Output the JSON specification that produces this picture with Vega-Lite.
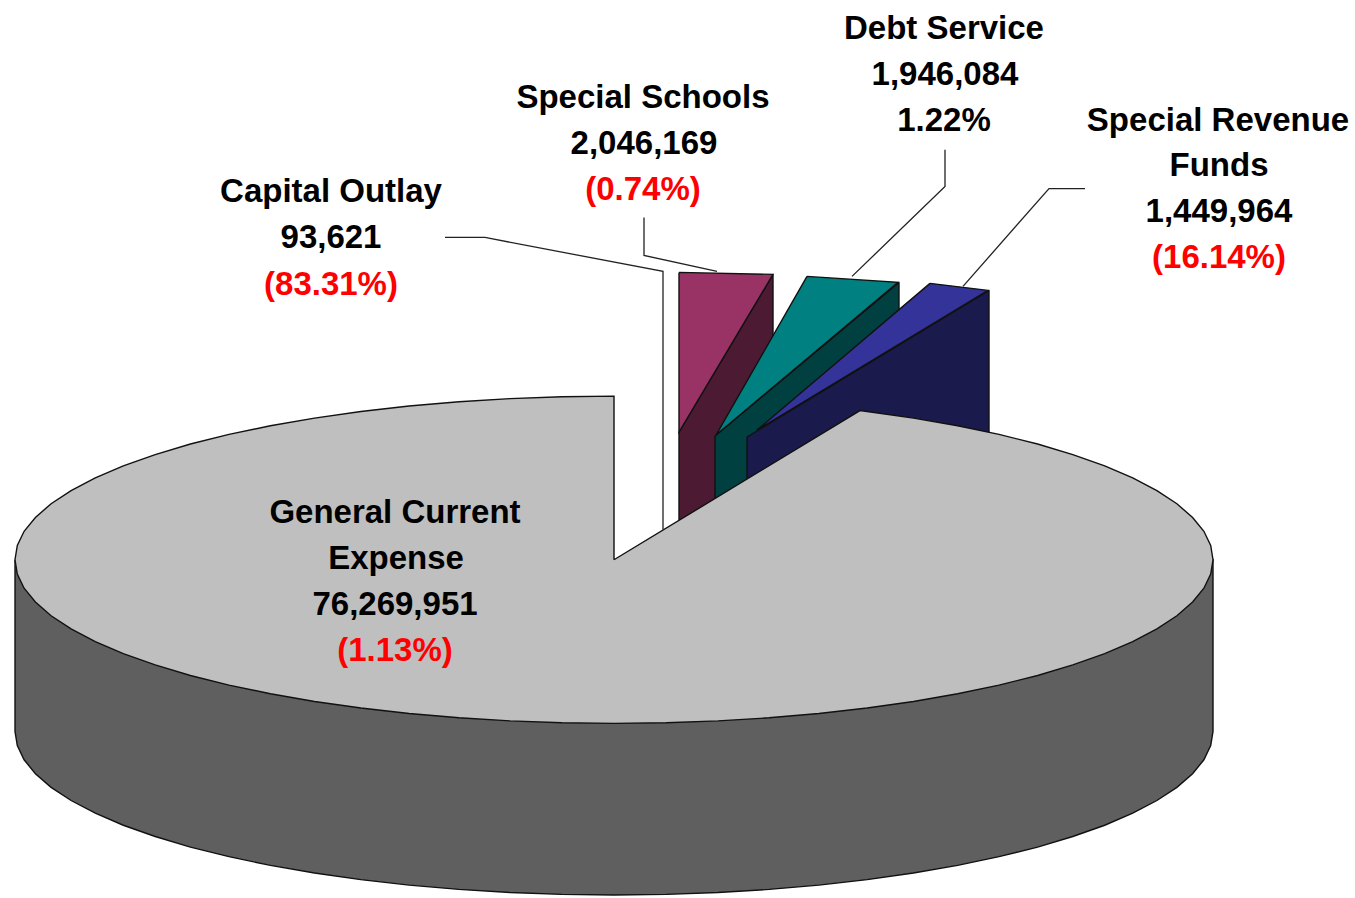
{"$schema":"https://vega.github.io/schema/vega-lite/v6.json","width":1355,"height":898,"padding":0,"autosize":{"type":"fit","contains":"padding"},"background":"white","config":{"view":{"stroke":null}},
"datasets":{
"faces":[
{"s":"Special Schools side","i":0,"x":773,"y":275},{"s":"Special Schools side","i":1,"x":773,"y":400},{"s":"Special Schools side","i":2,"x":715,"y":500},{"s":"Special Schools side","i":3,"x":679,"y":530},{"s":"Special Schools side","i":4,"x":679,"y":433},{"s":"Special Schools side","i":5,"x":773,"y":275},
{"s":"Special Schools top","i":0,"x":679,"y":273},{"s":"Special Schools top","i":1,"x":773,"y":275},{"s":"Special Schools top","i":2,"x":679,"y":433},{"s":"Special Schools top","i":3,"x":679,"y":273},
{"s":"Debt Service side","i":0,"x":899,"y":283},{"s":"Debt Service side","i":1,"x":899,"y":371},{"s":"Debt Service side","i":2,"x":715,"y":525},{"s":"Debt Service side","i":3,"x":715,"y":437},{"s":"Debt Service side","i":4,"x":899,"y":283},
{"s":"Debt Service top","i":0,"x":807,"y":277},{"s":"Debt Service top","i":1,"x":898,"y":283},{"s":"Debt Service top","i":2,"x":716,"y":436},{"s":"Debt Service top","i":3,"x":807,"y":277},
{"s":"Special Revenue side","i":0,"x":989,"y":291},{"s":"Special Revenue side","i":1,"x":989,"y":440},{"s":"Special Revenue side","i":2,"x":747,"y":530},{"s":"Special Revenue side","i":3,"x":747,"y":438},{"s":"Special Revenue side","i":4,"x":989,"y":291},
{"s":"Special Revenue top","i":0,"x":930,"y":284},{"s":"Special Revenue top","i":1,"x":988,"y":291},{"s":"Special Revenue top","i":2,"x":757,"y":431},{"s":"Special Revenue top","i":3,"x":930,"y":284},
{"s":"General side","i":0,"x":15,"y":561},{"s":"General side","i":1,"x":15,"y":733},{"s":"General side","i":2,"x":17.3,"y":747.3},{"s":"General side","i":3,"x":24.1,"y":761.5},{"s":"General side","i":4,"x":35.4,"y":775.4},{"s":"General side","i":5,"x":51.1,"y":789.1},{"s":"General side","i":6,"x":71.1,"y":802.3},{"s":"General side","i":7,"x":95.3,"y":815},{"s":"General side","i":8,"x":123.3,"y":827.1},{"s":"General side","i":9,"x":155.2,"y":838.4},{"s":"General side","i":10,"x":190.4,"y":849},{"s":"General side","i":11,"x":229,"y":858.6},{"s":"General side","i":12,"x":270.4,"y":867.3},{"s":"General side","i":13,"x":314.5,"y":875},{"s":"General side","i":14,"x":360.9,"y":881.6},{"s":"General side","i":15,"x":409.1,"y":887.1},{"s":"General side","i":16,"x":459,"y":891.4},{"s":"General side","i":17,"x":510,"y":894.5},{"s":"General side","i":18,"x":561.8,"y":896.4},{"s":"General side","i":19,"x":614,"y":897},{"s":"General side","i":20,"x":666.2,"y":896.4},{"s":"General side","i":21,"x":718,"y":894.5},{"s":"General side","i":22,"x":769,"y":891.4},{"s":"General side","i":23,"x":818.9,"y":887.1},{"s":"General side","i":24,"x":867.1,"y":881.6},{"s":"General side","i":25,"x":913.5,"y":875},{"s":"General side","i":26,"x":957.6,"y":867.3},{"s":"General side","i":27,"x":999,"y":858.6},{"s":"General side","i":28,"x":1037.6,"y":849},{"s":"General side","i":29,"x":1072.8,"y":838.4},{"s":"General side","i":30,"x":1104.7,"y":827.1},{"s":"General side","i":31,"x":1132.7,"y":815},{"s":"General side","i":32,"x":1156.9,"y":802.3},{"s":"General side","i":33,"x":1176.9,"y":789.1},{"s":"General side","i":34,"x":1192.6,"y":775.4},{"s":"General side","i":35,"x":1203.9,"y":761.5},{"s":"General side","i":36,"x":1210.7,"y":747.3},{"s":"General side","i":37,"x":1213,"y":733},{"s":"General side","i":38,"x":1213,"y":561},{"s":"General side","i":39,"x":15,"y":561},
{"s":"General top","i":0,"x":614,"y":561},{"s":"General top","i":1,"x":614,"y":397},{"s":"General top","i":2,"x":561.8,"y":397.6},{"s":"General top","i":3,"x":510,"y":399.5},{"s":"General top","i":4,"x":459,"y":402.6},{"s":"General top","i":5,"x":409.1,"y":406.9},{"s":"General top","i":6,"x":360.9,"y":412.4},{"s":"General top","i":7,"x":314.5,"y":419},{"s":"General top","i":8,"x":270.4,"y":426.7},{"s":"General top","i":9,"x":229,"y":435.4},{"s":"General top","i":10,"x":190.4,"y":445},{"s":"General top","i":11,"x":155.2,"y":455.6},{"s":"General top","i":12,"x":123.3,"y":466.9},{"s":"General top","i":13,"x":95.3,"y":479},{"s":"General top","i":14,"x":71.1,"y":491.7},{"s":"General top","i":15,"x":51.1,"y":504.9},{"s":"General top","i":16,"x":35.4,"y":518.6},{"s":"General top","i":17,"x":24.1,"y":532.5},{"s":"General top","i":18,"x":17.3,"y":546.7},{"s":"General top","i":19,"x":15,"y":561},{"s":"General top","i":20,"x":17.3,"y":575.3},{"s":"General top","i":21,"x":24.1,"y":589.5},{"s":"General top","i":22,"x":35.4,"y":603.4},{"s":"General top","i":23,"x":51.1,"y":617.1},{"s":"General top","i":24,"x":71.1,"y":630.3},{"s":"General top","i":25,"x":95.3,"y":643},{"s":"General top","i":26,"x":123.3,"y":655.1},{"s":"General top","i":27,"x":155.2,"y":666.4},{"s":"General top","i":28,"x":190.4,"y":677},{"s":"General top","i":29,"x":229,"y":686.6},{"s":"General top","i":30,"x":270.4,"y":695.3},{"s":"General top","i":31,"x":314.5,"y":703},{"s":"General top","i":32,"x":360.9,"y":709.6},{"s":"General top","i":33,"x":409.1,"y":715.1},{"s":"General top","i":34,"x":459,"y":719.4},{"s":"General top","i":35,"x":510,"y":722.5},{"s":"General top","i":36,"x":561.8,"y":724.4},{"s":"General top","i":37,"x":614,"y":725},{"s":"General top","i":38,"x":666.2,"y":724.4},{"s":"General top","i":39,"x":718,"y":722.5},{"s":"General top","i":40,"x":769,"y":719.4},{"s":"General top","i":41,"x":818.9,"y":715.1},{"s":"General top","i":42,"x":867.1,"y":709.6},{"s":"General top","i":43,"x":913.5,"y":703},{"s":"General top","i":44,"x":957.6,"y":695.3},{"s":"General top","i":45,"x":999,"y":686.6},{"s":"General top","i":46,"x":1037.6,"y":677},{"s":"General top","i":47,"x":1072.8,"y":666.4},{"s":"General top","i":48,"x":1104.7,"y":655.1},{"s":"General top","i":49,"x":1132.7,"y":643},{"s":"General top","i":50,"x":1156.9,"y":630.3},{"s":"General top","i":51,"x":1176.9,"y":617.1},{"s":"General top","i":52,"x":1192.6,"y":603.4},{"s":"General top","i":53,"x":1203.9,"y":589.5},{"s":"General top","i":54,"x":1210.7,"y":575.3},{"s":"General top","i":55,"x":1213,"y":561},{"s":"General top","i":56,"x":1210.7,"y":546.7},{"s":"General top","i":57,"x":1203.9,"y":532.5},{"s":"General top","i":58,"x":1192.6,"y":518.6},{"s":"General top","i":59,"x":1176.9,"y":504.9},{"s":"General top","i":60,"x":1156.9,"y":491.7},{"s":"General top","i":61,"x":1132.7,"y":479},{"s":"General top","i":62,"x":1104.7,"y":466.9},{"s":"General top","i":63,"x":1072.8,"y":455.6},{"s":"General top","i":64,"x":1037.6,"y":445},{"s":"General top","i":65,"x":999,"y":435.4},{"s":"General top","i":66,"x":957.6,"y":426.7},{"s":"General top","i":67,"x":913.5,"y":419},{"s":"General top","i":68,"x":867.1,"y":412.4},{"s":"General top","i":69,"x":860,"y":411.5},{"s":"General top","i":70,"x":614,"y":561}
],
"leaders":[
{"s":"Capital Outlay","i":0,"x":445,"y":238},{"s":"Capital Outlay","i":1,"x":485,"y":238},{"s":"Capital Outlay","i":2,"x":663,"y":272},{"s":"Capital Outlay","i":3,"x":663,"y":531},
{"s":"Special Schools","i":0,"x":644,"y":218},{"s":"Special Schools","i":1,"x":644,"y":256},{"s":"Special Schools","i":2,"x":717,"y":272},
{"s":"Debt Service","i":0,"x":945,"y":150},{"s":"Debt Service","i":1,"x":945,"y":187},{"s":"Debt Service","i":2,"x":852,"y":277},
{"s":"Special Revenue","i":0,"x":1085,"y":189},{"s":"Special Revenue","i":1,"x":1049,"y":189},{"s":"Special Revenue","i":2,"x":963,"y":287}
],
"labels":[
{"t":"Capital Outlay","k":"name","x":331,"y":192.5},{"t":"93,621","k":"name","x":331,"y":239},{"t":"(83.31%)","k":"pct","x":331,"y":285.5},
{"t":"Special Schools","k":"name","x":643,"y":98},{"t":"2,046,169","k":"name","x":644,"y":144},{"t":"(0.74%)","k":"pct","x":643,"y":190},
{"t":"Debt Service","k":"name","x":944,"y":29},{"t":"1,946,084","k":"name","x":945,"y":75},{"t":"1.22%","k":"name","x":944,"y":121},
{"t":"Special Revenue","k":"name","x":1218,"y":121},{"t":"Funds","k":"name","x":1219,"y":166},{"t":"1,449,964","k":"name","x":1219,"y":212},{"t":"(16.14%)","k":"pct","x":1219,"y":258.5},
{"t":"General Current","k":"name","x":395,"y":514},{"t":"Expense","k":"name","x":396,"y":560},{"t":"76,269,951","k":"name","x":395,"y":606},{"t":"(1.13%)","k":"pct","x":395,"y":652}
]},
"encoding":{
"x":{"field":"x","type":"quantitative","scale":{"domain":[0,1355]},"axis":null},
"y":{"field":"y","type":"quantitative","scale":{"domain":[898,0]},"axis":null}},
"layer":[
{"data":{"name":"faces"},"mark":{"type":"line","filled":true,"stroke":"#111111","strokeWidth":1.4,"interpolate":"linear","strokeJoin":"miter"},
"encoding":{"order":{"field":"i","type":"quantitative"},"detail":{"field":"s"},"fill":{"field":"s","type":"nominal","legend":null,"sort":null,"scale":{"domain":["Special Schools side","Special Schools top","Debt Service side","Debt Service top","Special Revenue side","Special Revenue top","General side","General top"],"range":["#4D1A33","#993366","#004040","#008080","#1A1A4D","#333399","#5F5F5F","#BFBFBF"]}}}},
{"data":{"name":"leaders"},"mark":{"type":"line","stroke":"#222222","strokeWidth":1.3,"interpolate":"linear"},
"encoding":{"order":{"field":"i","type":"quantitative"},"detail":{"field":"s"}}},
{"data":{"name":"labels"},"mark":{"type":"text","font":"Liberation Sans","fontWeight":"bold","fontSize":33,"align":"center","baseline":"middle"},
"encoding":{"text":{"field":"t"},"color":{"field":"k","type":"nominal","legend":null,"scale":{"domain":["name","pct"],"range":["#000000","#FF0000"]}}}}
]}
